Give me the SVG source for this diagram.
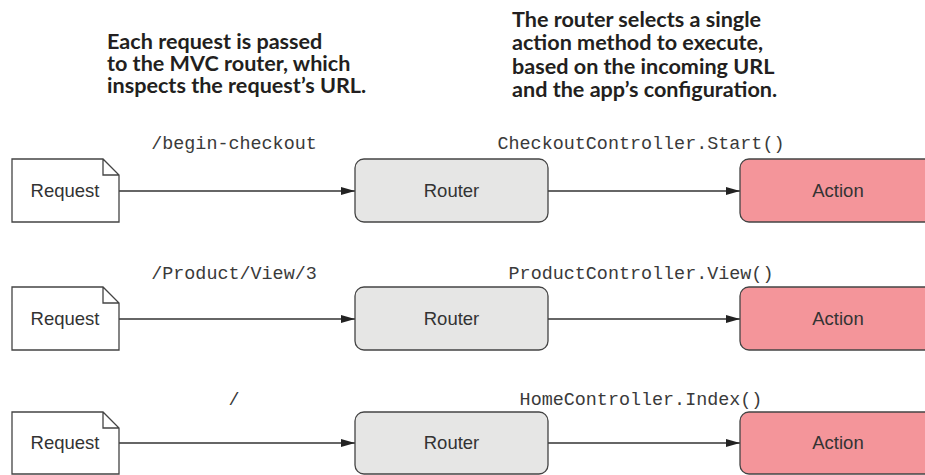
<svg xmlns="http://www.w3.org/2000/svg" width="925" height="475" viewBox="0 0 925 475">
<defs>
<style>
.title{font-family:Lato,"Open Sans","Liberation Sans",sans-serif;font-weight:bold;font-size:21.6px;fill:#231f20}
.mono{font-family:"Liberation Mono","DejaVu Sans Mono",monospace;font-size:18.4px;fill:#3a3a3a;text-anchor:middle}
.lbl{font-family:"Liberation Sans",Arial,sans-serif;font-size:18.5px;fill:#333;text-anchor:middle}
.doc{fill:#fff;stroke:#444;stroke-width:1.3}
.router{fill:#e6e6e5;stroke:#444;stroke-width:1.3}
.action{fill:#f4959a;stroke:#444;stroke-width:1.3}
.conn{stroke:#333;stroke-width:1.3;fill:none;marker-end:url(#arr)}
</style>
<marker id="arr" viewBox="0 0 14 8" refX="14" refY="4" markerWidth="14" markerHeight="8" markerUnits="userSpaceOnUse" orient="auto">
<path d="M0,0 L14,4 L0,8 Z" fill="#222"/>
</marker>
</defs>

<g id="title-left">
<text class="title" x="107" y="49">Each request is passed<tspan x="107" dy="22">to the MVC router, which</tspan><tspan x="107" dy="22">inspects the request’s URL.</tspan></text>
</g>
<g id="title-right">
<text class="title" x="512" y="27">The router selects a single<tspan x="512" dy="23.3">action method to execute,</tspan><tspan x="512" dy="23.3">based on the incoming URL</tspan><tspan x="512" dy="23.3">and the app’s configuration.</tspan></text>
</g>

<g id="connectors">
<line class="conn" x1="119" y1="191" x2="355" y2="191"/>
<line class="conn" x1="548" y1="191" x2="740" y2="191"/>
<line class="conn" x1="119" y1="319" x2="355" y2="319"/>
<line class="conn" x1="548" y1="319" x2="740" y2="319"/>
<line class="conn" x1="119" y1="443" x2="355" y2="443"/>
<line class="conn" x1="548" y1="443" x2="740" y2="443"/>
<text class="mono" x="234" y="149">/begin-checkout</text>
<text class="mono" x="641" y="149">CheckoutController.Start()</text>
<text class="mono" x="234" y="279">/Product/View/3</text>
<text class="mono" x="641" y="279">ProductController.View()</text>
<text class="mono" x="234" y="405">/</text>
<text class="mono" x="641" y="405">HomeController.Index()</text>
</g>

<g id="request1">
<path class="doc" d="M12,159 H103 L119,175 V222 H12 Z M103,159 V175 H119"/>
<text class="lbl" x="65" y="197">Request</text>
</g>
<g id="router1">
<rect class="router" x="355" y="159" width="193" height="63" rx="9"/>
<text class="lbl" x="451.5" y="197">Router</text>
</g>
<g id="action1">
<rect class="action" x="740" y="159" width="200" height="63" rx="9"/>
<text class="lbl" x="838" y="197">Action</text>
</g>

<g id="request2">
<path class="doc" d="M12,287 H103 L119,303 V350 H12 Z M103,287 V303 H119"/>
<text class="lbl" x="65" y="325">Request</text>
</g>
<g id="router2">
<rect class="router" x="355" y="287" width="193" height="63" rx="9"/>
<text class="lbl" x="451.5" y="325">Router</text>
</g>
<g id="action2">
<rect class="action" x="740" y="287" width="200" height="63" rx="9"/>
<text class="lbl" x="838" y="325">Action</text>
</g>

<g id="request3">
<path class="doc" d="M12,412 H103 L119,428 V474 H12 Z M103,412 V428 H119"/>
<text class="lbl" x="65" y="449">Request</text>
</g>
<g id="router3">
<rect class="router" x="355" y="412" width="193" height="62" rx="9"/>
<text class="lbl" x="451.5" y="449">Router</text>
</g>
<g id="action3">
<rect class="action" x="740" y="412" width="200" height="62" rx="9"/>
<text class="lbl" x="838" y="449">Action</text>
</g>
</svg>
